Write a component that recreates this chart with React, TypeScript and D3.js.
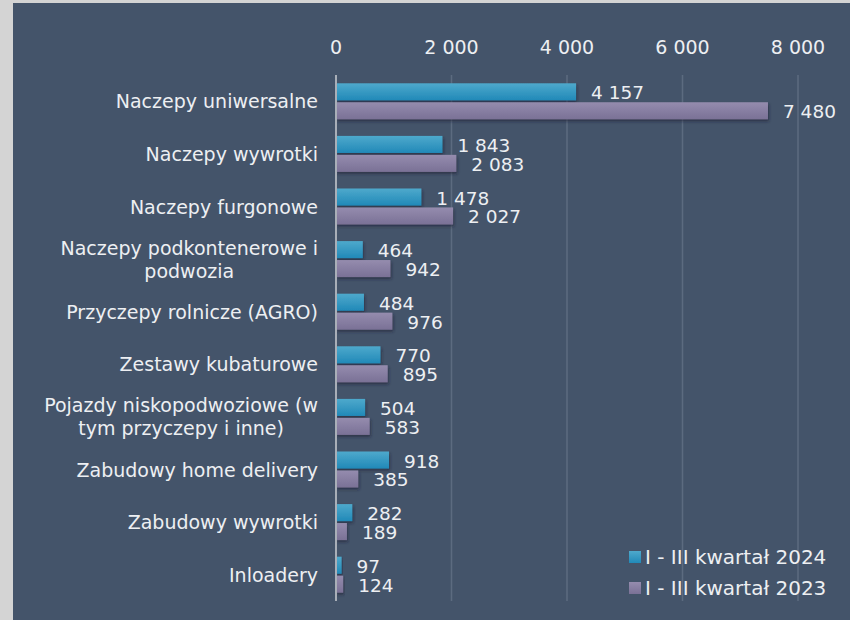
import React from "react";
import * as d3 from "d3";

const categories: string[][] = [
  ["Naczepy uniwersalne"],
  ["Naczepy wywrotki"],
  ["Naczepy furgonowe"],
  ["Naczepy podkontenerowe i", "podwozia"],
  ["Przyczepy rolnicze (AGRO)"],
  ["Zestawy kubaturowe"],
  ["Pojazdy niskopodwoziowe (w", "tym przyczepy i inne)"],
  ["Zabudowy home delivery"],
  ["Zabudowy wywrotki"],
  ["Inloadery"],
];
const values2024 = [4157, 1843, 1478, 464, 484, 770, 504, 918, 282, 97];
const values2023 = [7480, 2083, 2027, 942, 976, 895, 583, 385, 189, 124];
const seriesNames = ["I - III kwartał 2024", "I - III kwartał 2023"];
const ticks = [0, 2000, 4000, 6000, 8000];

const fmt = (v: number) => d3.format(",")(v).replace(/,/g, "\u00a0");

const FONT = "'DejaVu Sans', Verdana, sans-serif";
const FS = 19;

let ctx: CanvasRenderingContext2D | null = null;
function measure(s: string): number {
  if (!ctx) {
    const c = document.createElement("canvas");
    ctx = c.getContext("2d");
  }
  if (!ctx) return s.length * FS * 0.55;
  ctx.font = `${FS}px 'DejaVu Sans'`;
  return ctx.measureText(s).width;
}

export default function App() {
  const W = 850, H = 620;
  const x = d3.scaleLinear().domain([0, 8000]).range([336, 798]);
  const y = d3.scaleBand<number>().domain(d3.range(categories.length)).range([75, 601]);
  const inner = d3.scaleBand<number>().domain([0, 1]).range([0, 36]).paddingInner(0.1);
  const off = (y.bandwidth() - 36) / 2;
  const txt = "#EDEFF2";
  const series = [values2024, values2023];
  const grads = ["g24", "g23"];
  return (
    <svg width={W} height={H} style={{ position: "absolute", left: 0, top: 0 }}>
      <defs>
        <linearGradient id="g24" x1="0" y1="0" x2="0" y2="1">
          <stop offset="0" stopColor="#4EA9CC" />
          <stop offset="1" stopColor="#2189B8" />
        </linearGradient>
        <linearGradient id="g23" x1="0" y1="0" x2="0" y2="1">
          <stop offset="0" stopColor="#958CAE" />
          <stop offset="1" stopColor="#7A7196" />
        </linearGradient>
        <filter id="sh" x="-10%" y="-30%" width="130%" height="180%">
          <feDropShadow dx="1" dy="2" stdDeviation="1.5" floodColor="#1a2230" floodOpacity="0.6" />
        </filter>
      </defs>
      <rect x={0} y={0} width={W} height={H} fill="#D4D4D4" />
      <rect x={13} y={3} width={W - 13} height={H - 3} fill="#44546A" />
      {ticks.map((t) => (
        <g key={t}>
          {t > 0 && <line x1={x(t)} x2={x(t)} y1={75} y2={601} stroke="#5C6B80" strokeWidth={1.5} />}
          <text x={x(t)} y={47} textAnchor="middle" dominantBaseline="central" fill={txt} fontFamily={FONT} fontSize={FS}>
            {fmt(t)}
          </text>
        </g>
      ))}
      {categories.map((c, i) => {
        const cy = (y(i) as number) + y.bandwidth() / 2;
        const maxW = Math.max(...c.map(measure));
        const cx = 318 - maxW / 2;
        return (
          <g key={i}>
            {c.map((line, k) => (
              <text key={k} x={c.length > 1 ? cx : 318} y={cy + (k - (c.length - 1) / 2) * 23}
                textAnchor={c.length > 1 ? "middle" : "end"} dominantBaseline="central"
                fill={txt} fontFamily={FONT} fontSize={FS}>{line}</text>
            ))}
            {series.map((s, j) => {
              const by = (y(i) as number) + off + (inner(j) as number);
              const bh = inner.bandwidth();
              return (
                <g key={j}>
                  <rect x={x(0)} y={by} width={x(s[i]) - x(0)} height={bh} fill={`url(#${grads[j]})`} filter="url(#sh)" />
                  <text x={x(s[i]) + 15} y={by + bh / 2 + 1} dominantBaseline="central" fill={txt} fontFamily={FONT} fontSize={18.5}>
                    {fmt(s[i])}
                  </text>
                </g>
              );
            })}
          </g>
        );
      })}
      <line x1={x(0)} x2={x(0)} y1={75} y2={601} stroke="#A9AFB8" strokeWidth={2} />
      {seriesNames.map((n, j) => (
        <g key={n}>
          <rect x={629} y={551 + j * 31} width={12} height={12} fill={`url(#${grads[j]})`} />
          <text x={645} y={557 + j * 31} dominantBaseline="central" fill={txt} fontFamily={FONT} fontSize={20}>{n}</text>
        </g>
      ))}
    </svg>
  );
}
